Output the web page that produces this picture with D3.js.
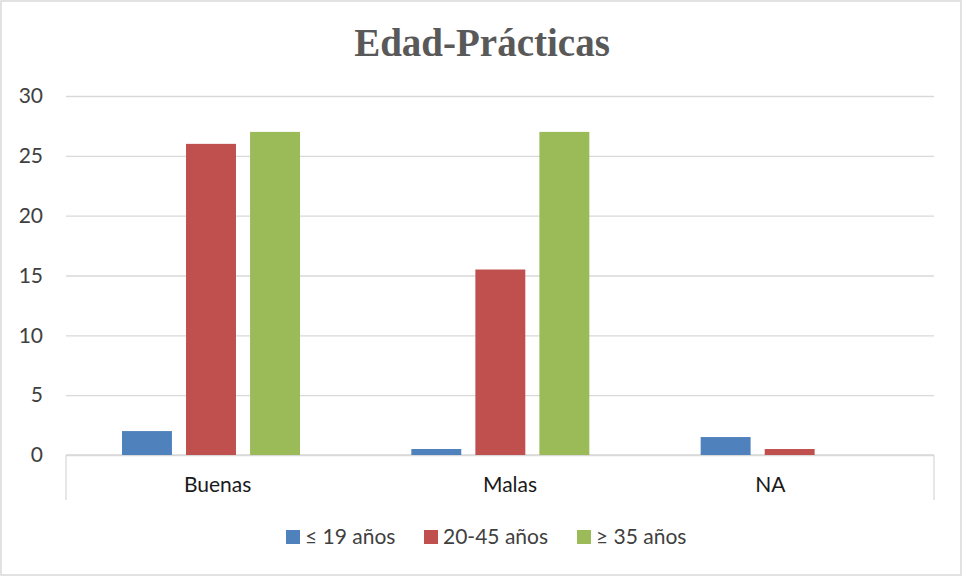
<!DOCTYPE html>
<html><head><meta charset="utf-8">
<script src="https://cdn.jsdelivr.net/npm/d3@7"></script>
<style>body{margin:0;background:#fff}svg{display:block}</style>
</head><body><svg id="c" width="963" height="577"></svg>
<script>
const categories = ["Buenas", "Malas", "NA"];
const seriesNames = ["≤ 19 años", "20-45 años", "≥ 35 años"];
const seriesLow = [2, 0.5, 1.5];
const seriesMid = [26, 15.5, 0.5];
const seriesHigh = [27, 27, 0];
const yTicks = [0, 5, 10, 15, 20, 25, 30];
const colors = ["#4f81bd", "#c0504d", "#9bbb59"];
const title = "Edad-Prácticas";

(function(){
const series = [seriesLow, seriesMid, seriesHigh];
const labelShift = [7, 10, -19];
const svg = d3.select("#c");
svg.append("rect").attr("x",1).attr("y",1).attr("width",960).attr("height",574)
  .attr("fill","#fff").attr("stroke","#d9d9d9").attr("stroke-width",1.5);

const L = 66, R = 934, T = 96, B = 455;
const font = "Lato, Calibri, sans-serif";
const y = d3.scaleLinear().domain([0,30]).range([B, T]);
const x0 = d3.scaleBand().domain(categories).range([L, R]).paddingInner(0).paddingOuter(0);
const x1 = d3.scaleBand().domain(d3.range(3)).range([56, 234]).paddingInner(0.22);

svg.append("text").attr("x",482).attr("y",56).attr("text-anchor","middle")
  .attr("font-family","Liberation Serif, Times New Roman, serif").attr("font-weight","bold")
  .attr("font-size",39).attr("fill","#595959").text(title);

const gy = svg.append("g").attr("transform",`translate(${L},0)`)
  .call(d3.axisLeft(y).tickValues(yTicks).tickSize(-(R-L)).tickFormat(d3.format("d")));
gy.select(".domain").remove();
gy.selectAll(".tick line").attr("stroke","#d9d9d9").attr("stroke-width",1.3);
gy.selectAll(".tick text").attr("x",-23).attr("font-family",font)
  .attr("font-size",21).attr("fill","#404040").attr("text-anchor","end");

const gx = svg.append("g").attr("transform",`translate(0,${B})`)
  .call(d3.axisBottom(x0).tickSize(0).tickPadding(22));
gx.select(".domain").remove();
gx.selectAll(".tick text").attr("font-family",font).attr("font-size",21).attr("fill","#1a1a1a")
  .attr("dx",(d,i)=>labelShift[i]);

svg.append("line").attr("x1",L).attr("x2",R).attr("y1",B).attr("y2",B).attr("stroke","#d9d9d9").attr("stroke-width",1.3);
[L, R].forEach(v => svg.append("line").attr("x1",v).attr("x2",v).attr("y1",B).attr("y2",500).attr("stroke","#d9d9d9").attr("stroke-width",1.3));

categories.forEach((c, ci) => {
  series.forEach((s, si) => {
    if (s[ci] <= 0) return;
    svg.append("rect").attr("x", x0(c) + x1(si)).attr("width", x1.bandwidth())
      .attr("y", y(s[ci])).attr("height", y(0) - y(s[ci])).attr("fill", colors[si]);
  });
});

const legX = [286, 424, 577];
const lg = svg.append("g");
seriesNames.forEach((n, i) => {
  lg.append("rect").attr("x", legX[i]).attr("y", 530).attr("width", 14).attr("height", 14).attr("fill", colors[i]);
  lg.append("text").attr("x", legX[i] + 19).attr("y", 544).attr("font-family",font)
    .attr("font-size",21).attr("fill","#404040").text(n);
});
})();
</script></body></html>
